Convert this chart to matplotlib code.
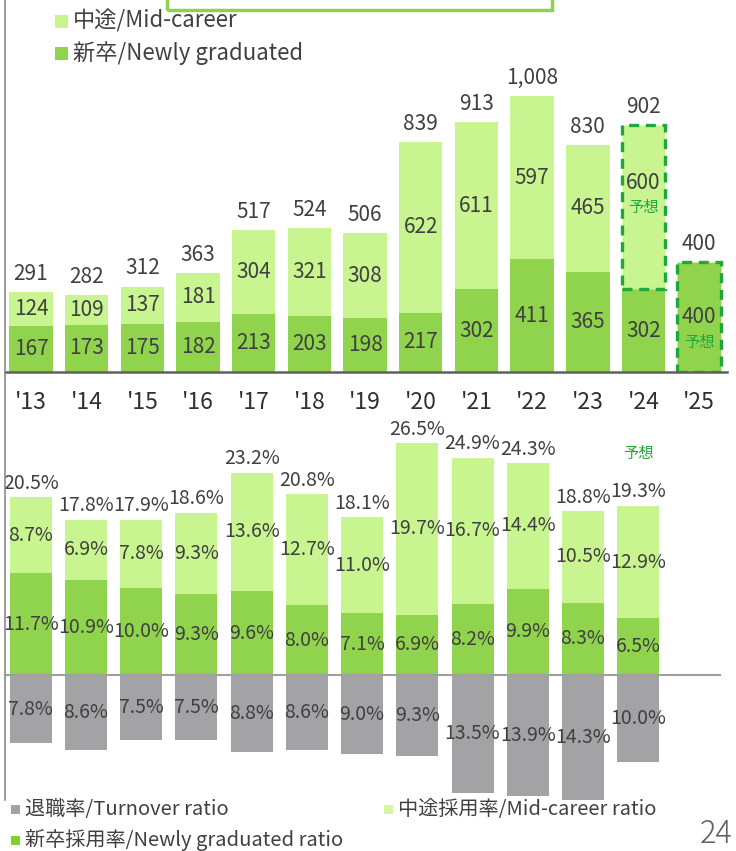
import numpy as np
import matplotlib
matplotlib.use("Agg")
from matplotlib import pyplot as plt
from matplotlib.patches import Rectangle
from matplotlib.lines import Line2D

plt.rcParams['font.family'] = ['Noto Sans CJK JP', 'DejaVu Sans']

# 採用人数 (人)
years = ["'13", "'14", "'15", "'16", "'17", "'18", "'19", "'20", "'21", "'22", "'23", "'24", "'25"]
new_grad = [167, 173, 175, 182, 213, 203, 198, 217, 302, 411, 365, 302, 400]
mid_career = [124, 109, 137, 181, 304, 321, 308, 622, 611, 597, 465, 600, 0]
totals = [291, 282, 312, 363, 517, 524, 506, 839, 913, 1008, 830, 902, 400]

# 採用率・退職率 (%)
rate_years = years[:12]
new_rate = [11.7, 10.9, 10.0, 9.3, 9.6, 8.0, 7.1, 6.9, 8.2, 9.9, 8.3, 6.5]
mid_rate = [8.7, 6.9, 7.8, 9.3, 13.6, 12.7, 11.0, 19.7, 16.7, 14.4, 10.5, 12.9]
total_rate = [20.5, 17.8, 17.9, 18.6, 23.2, 20.8, 18.1, 26.5, 24.9, 24.3, 18.8, 19.3]
turnover = [7.8, 8.6, 7.5, 7.5, 8.8, 8.6, 9.0, 9.3, 13.5, 13.9, 14.3, 10.0]

C_MID = '#c9f590'
C_NEW = '#8fd44c'
C_TURN = '#a3a3a6'
C_TXT = '#404040'
C_FC = '#1fa83a'   # 予想
W, H = 736, 851


def fx(px):
    return px / W


def fy(py):
    return 1 - py / H


fig = plt.figure(figsize=(W / 100, H / 100), dpi=100)

# ---- 上段: 採用人数
ax1 = fig.add_axes([fx(5), fy(372), (727 - 5) / W, 372 / H])
x = np.arange(len(years))
bw = 0.78
b_new = ax1.bar(x, new_grad, bw, color=C_NEW, linewidth=0)
b_mid = ax1.bar(x, mid_career, bw, bottom=new_grad, color=C_MID, linewidth=0)
ax1.set_xlim(-0.468, 12.5)
ax1.set_ylim(0, 1358)
for s in ['top', 'right', 'left']:
    ax1.spines[s].set_visible(False)
ax1.spines['bottom'].set_color('#606060')
ax1.spines['bottom'].set_linewidth(1.8)
ax1.set_yticks([])
ax1.set_xticks(x)
ax1.set_xticklabels(years, fontsize=16.5, color='#303030')
ax1.tick_params(axis='x', length=0, pad=14)

# 予想の点線枠
i24, i25 = years.index("'24"), years.index("'25")
for p in [b_mid[i24], b_new[i25]]:
    p.set_edgecolor(C_FC)
    p.set_linewidth(2.4)
    p.set_linestyle((0, (3, 2)))

for i in range(len(years)):
    if new_grad[i] and i != i25:
        ax1.text(x[i], new_grad[i] / 2, str(new_grad[i]), ha='center', va='center',
                 fontsize=15, color=C_TXT)
    if mid_career[i] and i != i24:
        ax1.text(x[i], new_grad[i] + mid_career[i] / 2, str(mid_career[i]),
                 ha='center', va='center', fontsize=15, color=C_TXT)
    ax1.annotate(f"{totals[i]:,}", (x[i], totals[i]), xytext=(0, 13),
                 textcoords='offset points', ha='center', va='center',
                 fontsize=15, color=C_TXT)

ym = new_grad[i24] + mid_career[i24] / 2
ax1.annotate(str(mid_career[i24]), (x[i24], ym), xytext=(0, 17), textcoords='offset points',
             ha='center', va='center', fontsize=15, color=C_TXT)
ax1.text(x[i24], ym, '予想', ha='center', va='center', fontsize=11, color=C_FC)
ax1.text(x[i25], new_grad[i25] / 2, str(new_grad[i25]), ha='center', va='center',
         fontsize=15, color=C_TXT)
ax1.annotate('予想', (x[i25], new_grad[i25] / 2), xytext=(0, -18), textcoords='offset points',
             ha='center', va='center', fontsize=11, color=C_FC)

# ---- 下段: 採用率・退職率
ax2 = fig.add_axes([fx(5), fy(805), (721 - 5) / W, (805 - 420) / H])
xr = np.arange(len(rate_years))
bw2 = 0.76
ax2.bar(xr, new_rate, bw2, color=C_NEW, linewidth=0)
ax2.bar(xr, mid_rate, bw2, bottom=new_rate, color=C_MID, linewidth=0)
ax2.bar(xr, [-t for t in turnover], bw2, color=C_TURN, linewidth=0)
ax2.axhline(0, color='#a0a0a0', linewidth=1.5)
ax2.set_xlim(-0.468, 12.5)
ax2.set_ylim(-14.9, 29.24)
ax2.axis('off')

for i in range(len(rate_years)):
    ax2.text(xr[i], new_rate[i] / 2, f"{new_rate[i]:.1f}%", ha='center', va='center',
             fontsize=14, color=C_TXT)
    ax2.text(xr[i], new_rate[i] + mid_rate[i] / 2, f"{mid_rate[i]:.1f}%", ha='center',
             va='center', fontsize=14, color=C_TXT)
    top = new_rate[i] + mid_rate[i]
    ax2.annotate(f"{total_rate[i]:.1f}%", (xr[i], top), xytext=(0, 10),
                 textcoords='offset points', ha='center', va='center',
                 fontsize=14, color=C_TXT)
    ax2.text(xr[i], -turnover[i] / 2, f"{turnover[i]:.1f}%", ha='center', va='center',
             fontsize=14, color=C_TXT)

top24 = new_rate[i24] + mid_rate[i24]
ax2.annotate('予想', (xr[i24], top24), xytext=(0, 38), textcoords='offset points',
             ha='center', va='center', fontsize=11, color=C_FC)

# ---- 凡例・装飾
def legend_item(px, py, color, label, size, sq=11):
    fig.add_artist(Rectangle((fx(px), fy(py + sq / 2)), sq / W, sq / H,
                             transform=fig.transFigure, color=color, linewidth=0))
    fig.text(fx(px + sq + 5), fy(py), label, ha='left', va='center',
             fontsize=size, color='#404040')


legend_item(55, 21, C_MID, '中途/Mid-career', 16, sq=13)
legend_item(55, 53, C_NEW, '新卒/Newly graduated', 16, sq=13)
legend_item(11, 809, C_TURN, '退職率/Turnover ratio', 14.5, sq=9)
legend_item(384, 809, '#d6f7a0', '中途採用率/Mid-career ratio', 14.5, sq=9)
legend_item(11, 840, '#7fd030', '新卒採用率/Newly graduated ratio', 14.5, sq=9)

fig.text(fx(716), fy(834), '24', ha='center', va='center', fontsize=22,
         color='#606060', fontweight='light')

# 左端の縦線と上部の枠
fig.add_artist(Line2D([fx(5), fx(5)], [fy(0), fy(800)], transform=fig.transFigure,
                      color='#8a8a8a', linewidth=1.2))
fig.add_artist(Rectangle((fx(167), fy(10)), (552 - 167) / W, 20 / H,
                         transform=fig.transFigure, fill=False,
                         edgecolor='#8fd14f', linewidth=2.5))

fig.savefig('out.png', dpi=100)
plt.close(fig)
